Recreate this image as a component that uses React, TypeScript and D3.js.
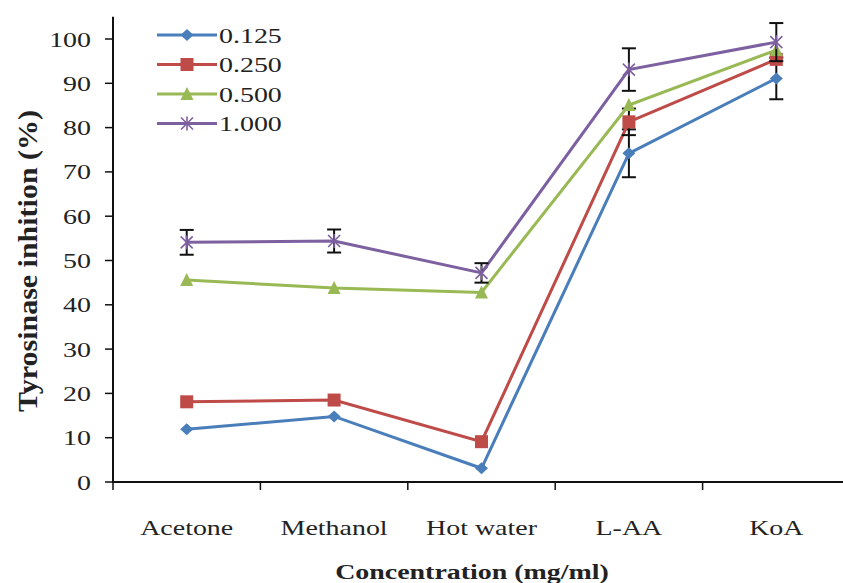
import React from "react";
import * as d3 from "d3";

const categories = ["Acetone", "Methanol", "Hot water", "L-AA", "KoA"];
const seriesNames = ["0.125", "0.250", "0.500", "1.000"];
const s0125 = [11.9, 14.8, 3.1, 74.2, 91.1];
const s0250 = [18.1, 18.5, 9.1, 81.3, 95.4];
const s0500 = [45.6, 43.8, 42.8, 85.1, 97.5];
const s1000 = [54.1, 54.4, 47.2, 93.1, 99.3];
const e0125 = [0, 0, 0, 5.4, 4.7];
const e0250 = [0, 0, 0, 3, 0];
const e0500 = [0, 0, 0, 0, 0];
const e1000 = [2.8, 2.6, 2.2, 4.8, 4.3];
const yTicks = [0, 10, 20, 30, 40, 50, 60, 70, 80, 90, 100];
const xTitle = "Concentration (mg/ml)";
const yTitle = "Tyrosinase inhition (%)";

const colors = ["#4a7ebb", "#be4b48", "#98b954", "#7d60a0"];
const markers = ["diamond", "square", "triangle", "star"];
const seriesValues = [s0125, s0250, s0500, s1000];
const seriesErrors = [e0125, e0250, e0500, e1000];

const SX = 1.27;
const FONT = "'Liberation Serif', 'Times New Roman', serif";

function Marker({ type, x, y, color }: { type: string; x: number; y: number; color: string }) {
  if (type === "diamond") {
    return <path d={`M${x},${y - 6} L${x + 6.5},${y} L${x},${y + 6} L${x - 6.5},${y} Z`} fill={color} />;
  }
  if (type === "square") {
    return <rect x={x - 6.5} y={y - 6.5} width={13} height={13} fill={color} />;
  }
  if (type === "triangle") {
    return <path d={`M${x},${y - 7} L${x + 6.5},${y + 6} L${x - 6.5},${y + 6} Z`} fill={color} />;
  }
  return (
    <g stroke={color} strokeWidth={1.6}>
      <line x1={x - 6} y1={y - 6} x2={x + 6} y2={y + 6} />
      <line x1={x - 6} y1={y + 6} x2={x + 6} y2={y - 6} />
      <line x1={x} y1={y - 7} x2={x} y2={y + 7} />
    </g>
  );
}

export default function App() {
  const W = 843;
  const H = 583;
  const x = d3.scaleBand<string>().domain(categories).range([113, 850]).padding(0);
  const y = d3.scaleLinear().domain([0, 105]).range([482, 482 - 105 * 4.43]);
  const cx = (c: string) => (x(c) as number) + x.bandwidth() / 2;
  const line = d3
    .line<number>()
    .x((_, i) => cx(categories[i]))
    .y((d) => y(d));

  const legendY = (i: number) => 35 + i * 29.5;

  return (
    <svg
      width={W}
      height={H}
      style={{ position: "absolute", left: 0, top: 0, background: "#ffffff" }}
      fontFamily={FONT}
    >
      <rect x={0} y={0} width={W} height={H} fill="#ffffff" />
      {/* axes */}
      <line x1={113} y1={y(105)} x2={113} y2={483} stroke="#111" strokeWidth={2} />
      <line x1={112} y1={482} x2={850} y2={482} stroke="#111" strokeWidth={2} />
      {yTicks.map((t) => (
        <g key={t}>
          <line x1={105} x2={113} y1={y(t)} y2={y(t)} stroke="#111" strokeWidth={1.5} />
          <text
            transform={`translate(91,${y(t) + 7.5}) scale(${SX},1)`}
            textAnchor="end"
            fontSize={22}
            fill="#222"
          >
            {t}
          </text>
        </g>
      ))}
      {categories.map((c) => (
        <g key={c}>
          <line x1={x(c) as number} x2={x(c) as number} y1={482} y2={490} stroke="#111" strokeWidth={1.5} />
          <text
            transform={`translate(${cx(c)},535) scale(${SX},1)`}
            textAnchor="middle"
            fontSize={22}
            fill="#222"
          >
            {c}
          </text>
        </g>
      ))}
      <line x1={850} x2={850} y1={482} y2={490} stroke="#111" strokeWidth={1.5} />
      <text
        transform={`translate(472,579) scale(${SX},1)`}
        textAnchor="middle"
        fontSize={22}
        fontWeight="bold"
        fill="#222"
      >
        {xTitle}
      </text>
      <text
        transform={`translate(37,261) scale(${SX},1) rotate(-90)`}
        textAnchor="middle"
        fontSize={21}
        fontWeight="bold"
        fill="#222"
        textLength={302}
        lengthAdjust="spacingAndGlyphs"
      >
        {yTitle}
      </text>

      {/* series */}
      {seriesValues.map((vals, si) => (
        <g key={si}>
          <path d={line(vals) || ""} fill="none" stroke={colors[si]} strokeWidth={3} />
          {vals.map((v, i) =>
            seriesErrors[si][i] > 0 ? (
              <g key={"e" + i} stroke="#111" strokeWidth={2}>
                <line
                  x1={cx(categories[i])}
                  x2={cx(categories[i])}
                  y1={y(v + seriesErrors[si][i])}
                  y2={y(v - seriesErrors[si][i])}
                />
                <line
                  x1={cx(categories[i]) - 7}
                  x2={cx(categories[i]) + 7}
                  y1={y(v + seriesErrors[si][i])}
                  y2={y(v + seriesErrors[si][i])}
                />
                <line
                  x1={cx(categories[i]) - 7}
                  x2={cx(categories[i]) + 7}
                  y1={y(v - seriesErrors[si][i])}
                  y2={y(v - seriesErrors[si][i])}
                />
              </g>
            ) : null
          )}
          {vals.map((v, i) => (
            <Marker key={"m" + i} type={markers[si]} x={cx(categories[i])} y={y(v)} color={colors[si]} />
          ))}
        </g>
      ))}

      {/* legend */}
      {seriesNames.map((n, i) => (
        <g key={n}>
          <line x1={157} x2={217} y1={legendY(i)} y2={legendY(i)} stroke={colors[i]} strokeWidth={3} />
          <Marker type={markers[i]} x={187} y={legendY(i)} color={colors[i]} />
          <text
            transform={`translate(219,${legendY(i) + 7.5}) scale(${SX},1)`}
            fontSize={22}
            fill="#222"
          >
            {n}
          </text>
        </g>
      ))}
    </svg>
  );
}
